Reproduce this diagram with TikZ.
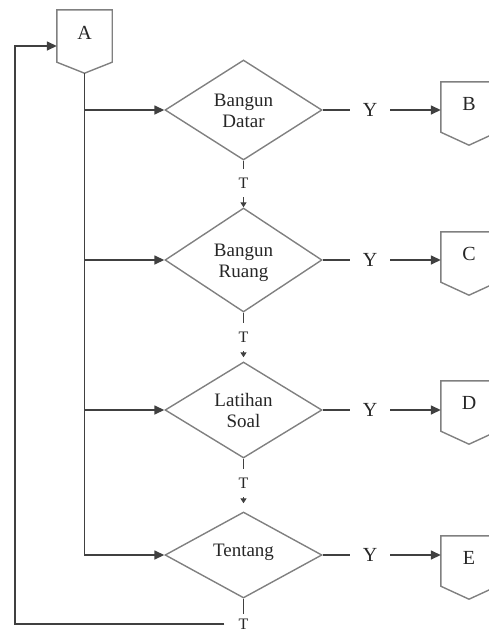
\documentclass[tikz,border=0pt]{standalone}
\usepackage{fontspec}
\setmainfont{Liberation Serif}
\usetikzlibrary{shapes.geometric,arrows.meta,calc}
\newcommand{\twoline}[2]{\raisebox{-3pt}[\height][\depth]{\begin{tabular}{@{}c@{}}#1\\#2\end{tabular}}}
\begin{document}
\begin{tikzpicture}[x=1pt,y=-1pt,
 shp/.style={draw=black!50, line width=1.4pt},
 dec/.style={shape=diamond, draw=black!50, line width=1.4pt, minimum width=157pt, inner sep=0pt, aspect=1.6, font=\fontsize{19}{21}\selectfont, text=black!85},
 lbl/.style={font=\fontsize{20}{22}\selectfont, text=black!85, inner sep=0pt},
 tl/.style={font=\fontsize{16}{18}\selectfont, text=black!85, inner ysep=9pt, inner xsep=10pt},
 opc/.style={minimum width=56pt, minimum height=50pt, inner sep=0pt, text depth=7pt, font=\fontsize{20}{22}\selectfont, text=black!85},
 con/.style={draw=black!75, line width=1.5pt},
 arr/.style={con, -{Triangle[length=10pt,width=9pt]}},
 sarr/.style={con, -{Triangle[length=5pt,width=6pt]}},
]
\useasboundingbox (0,0) rectangle (488,635);

% off-page connectors
\node[opc, minimum width=55pt, minimum height=52pt] (A) at (84.5,36) {A};
\draw[shp] (A.north west) -- (A.north east) -- (A.south east) -- ($(A.south)+(0,11)$) -- (A.south west) -- cycle;
\coordinate (Ap) at ($(A.south)+(0,11)$);

\foreach \n/\yy in {B/107,C/257,D/406,E/561}{
  \node[opc] (\n) at (469,\yy) {\n};
  \draw[shp] (\n.north west) -- (\n.north east) -- (\n.south east) -- ($(\n.south)+(0,13)$) -- (\n.south west) -- cycle;
}

% decisions
\node[dec, minimum height=100pt] (d1) at (243.5,110) {\twoline{Bangun}{Datar}};
\node[dec, minimum height=104pt] (d2) at (243.5,260) {\twoline{Bangun}{Ruang}};
\node[dec, minimum height=96pt]  (d3) at (243.5,410) {\twoline{Latihan}{Soal}};
\node[dec, minimum height=86pt]  (d4) at (243.5,555) {\raisebox{3pt}[\height][\depth]{Tentang}};

% Y labels
\node[lbl, minimum width=40pt] (y1) at (370,110) {Y};
\node[lbl, minimum width=40pt] (y2) at (370,260) {Y};
\node[lbl, minimum width=40pt] (y3) at (370,410) {Y};
\node[lbl, minimum width=40pt] (y4) at (370,555) {Y};

% T labels
\node[tl] (t1) at (243.5,183) {T};
\node[tl] (t2) at (243.5,337) {T};
\node[tl] (t3) at (243.5,483) {T};
\node[tl, inner xsep=14pt, inner ysep=5pt] (tb) at (243.5,624) {T};
\coordinate (lc) at (15,624);

% connectors
\draw[arr] (Ap) |- (d4.west);
\draw[arr] (Ap |- d1.west) -- (d1.west);
\draw[arr] (Ap |- d2.west) -- (d2.west);
\draw[arr] (Ap |- d3.west) -- (d3.west);

\foreach \d/\y/\b in {d1/y1/B,d2/y2/C,d3/y3/D,d4/y4/E}{
  \draw[con] (\d.east) -- (\y.west);
  \draw[arr] (\y.east) -- (\b.west |- \y.east);
}

\draw[con] (d1.south) -- (t1.north);
\draw[sarr] (t1.south) -- (d2.north);
\draw[con] (d2.south) -- (t2.north);
\draw[sarr, shorten >=4pt] (t2.south) -- (d3.north);
\draw[con] (d3.south) -- (t3.north);
\draw[sarr, shorten >=8pt] (t3.south) -- (d4.north);
\draw[con] (d4.south) -- (tb.north);
\draw[arr] (tb.west) -- (lc) |- ($(A.west)+(0,10)$);
\end{tikzpicture}
\end{document}
